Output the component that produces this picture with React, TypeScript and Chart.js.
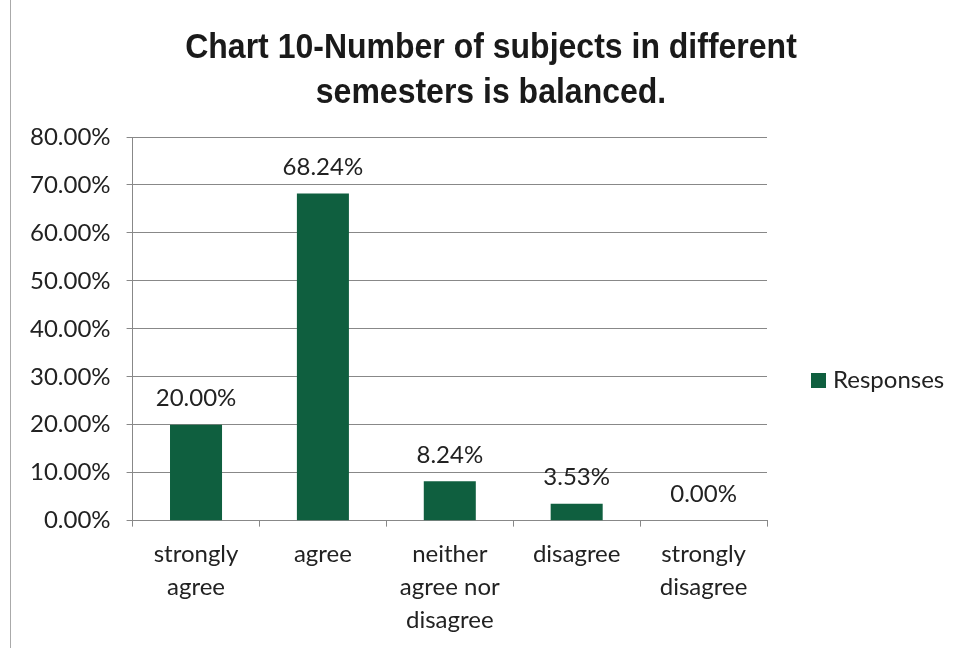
import React, { useEffect, useRef } from "react";
import { Chart, registerables } from "chart.js";

Chart.register(...registerables);

const categories: string[][] = [
  ["strongly", "agree"],
  ["agree"],
  ["neither", "agree nor", "disagree"],
  ["disagree"],
  ["strongly", "disagree"],
];
const responses: number[] = [0.2, 0.6824, 0.0824, 0.0353, 0.0];
const titleLines: string[] = ["Chart 10-Number of subjects in different", "semesters is balanced."];
const seriesName = "Responses";

const BAR = "#0f5f3f";
const FONT = "Lato, 'Liberation Sans', sans-serif";
const FS = 24;

const fmt = (v: number) => (v * 100).toFixed(2) + "%";

export default function App() {
  const ref = useRef<HTMLCanvasElement | null>(null);
  useEffect(() => {
    if (!ref.current) return;
    const extras = {
      id: "extras",
      afterDatasetsDraw(chart: any) {
        const { ctx } = chart;
        const meta = chart.getDatasetMeta(0);
        ctx.save();
        ctx.fillStyle = "#222";
        ctx.font = `${FS}px ${FONT}`;
        ctx.textAlign = "center";
        ctx.textBaseline = "bottom";
        meta.data.forEach((bar: any, i: number) => {
          ctx.fillText(fmt(responses[i]), bar.x, bar.y - 14);
        });
        ctx.restore();
      },
      afterDraw(chart: any) {
        const { ctx } = chart;
        ctx.save();
        // title
        ctx.fillStyle = "#1a1a1a";
        ctx.font = `bold 32px 'Liberation Sans', Arial, sans-serif`;
        ctx.textAlign = "center";
        ctx.textBaseline = "middle";
        titleLines.forEach((t, i) => {
          ctx.save();
          ctx.translate(491, 48 + i * 45);
          ctx.scale(1, 1.08);
          ctx.fillText(t, 0, 0);
          ctx.restore();
        });
        // legend
        ctx.fillStyle = BAR;
        ctx.fillRect(811, 373, 15, 15);
        ctx.fillStyle = "#222";
        ctx.font = `${FS}px ${FONT}`;
        ctx.textAlign = "left";
        ctx.textBaseline = "middle";
        ctx.fillText(chart.data.datasets[0].label, 833, 380);
        ctx.restore();
      },
    };
    const chart = new Chart(ref.current, {
      type: "bar",
      data: {
        labels: categories,
        datasets: [
          {
            label: seriesName,
            data: responses,
            backgroundColor: BAR,
            barPercentage: 0.41,
            categoryPercentage: 1,
          },
        ],
      },
      options: {
        responsive: false,
        animation: false,
        layout: { padding: { top: 137, right: 195, left: 14, bottom: 0 } },
        plugins: {
          legend: { display: false },
          title: { display: false },
          tooltip: { enabled: false },
        },
        scales: {
          x: {
            grid: {
              offset: true,
              drawOnChartArea: false,
              drawTicks: true,
              tickLength: 6,
              color: "#888",
            },
            border: { color: "#888" },
            ticks: {
              color: "#222",
              font: { family: FONT, size: FS, lineHeight: 1.38 },
              padding: 11,
              maxRotation: 0,
              autoSkip: false,
            },
          },
          y: {
            min: 0,
            max: 0.8,
            grid: { color: "#888", tickLength: 6 },
            border: { color: "#888" },
            ticks: {
              stepSize: 0.1,
              color: "#222",
              font: { family: FONT, size: FS },
              padding: 16,
              callback: (v: any) => fmt(Number(v)),
            },
          },
        },
      },
      plugins: [extras],
    });
    return () => chart.destroy();
  }, []);
  return (
    <div
      style={{
        position: "fixed",
        left: 0,
        top: 0,
        width: 962,
        height: 648,
        background: "#fff",
      }}
    >
      <div style={{ position: "absolute", left: 10, top: 0, width: 1, height: 648, background: "#aaa" }} />
      <canvas ref={ref} width={962} height={648} style={{ position: "absolute", left: 0, top: 0 }} />
    </div>
  );
}
